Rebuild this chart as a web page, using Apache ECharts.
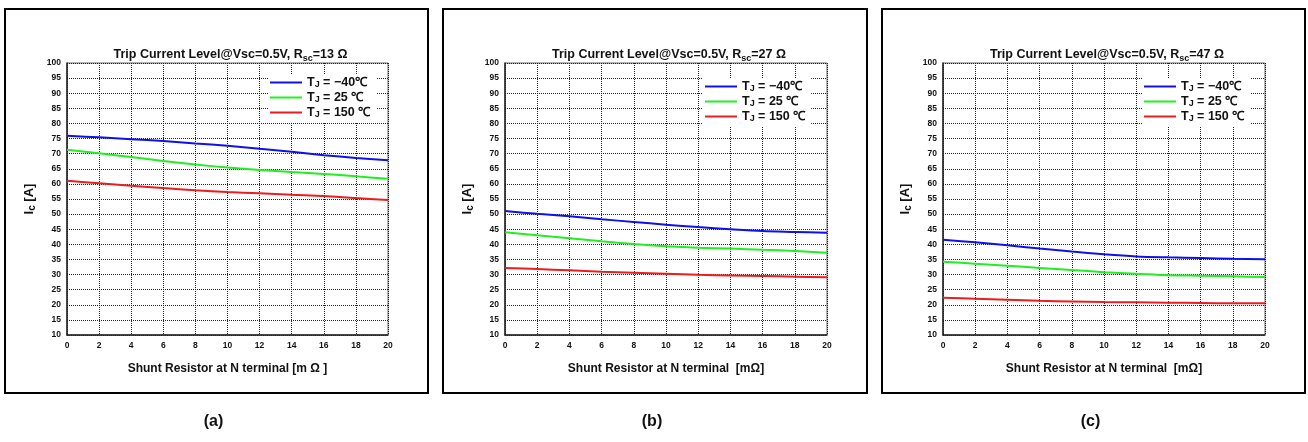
<!DOCTYPE html>
<html>
<head>
<meta charset="utf-8">
<script src="https://cdn.jsdelivr.net/npm/echarts@6/dist/echarts.min.js"></script>
<style>
html,body{margin:0;padding:0;background:#fff;}
#chart{width:1308px;height:442px;}
</style>
</head>
<body>
<div id="chart"></div>
<script>
// ---- data ----
const xValues = [0, 2, 4, 6, 8, 10, 12, 14, 16, 18, 20];
const yTicks = {min: 10, max: 100, interval: 5};
const xTicks = {min: 0, max: 20, interval: 2};

const panelRsc = ['13', '27', '47'];
const panelLabels = ['(a)', '(b)', '(c)'];
const xAxisNames = ['Shunt Resistor at N terminal [m Ω ]', 'Shunt Resistor at N terminal  [mΩ]', 'Shunt Resistor at N terminal  [mΩ]'];
const seriesNames = ['TJ = −40℃', 'TJ = 25 ℃', 'TJ = 150 ℃'];
const seriesColors = ['#1010ee', '#22ee22', '#ee1c1c'];

// (a) Rsc = 13 Ω
const a_m40 = [75.9, 75.4, 74.8, 74.2, 73.4, 72.6, 71.6, 70.6, 69.5, 68.6, 67.8];
const a_25  = [71.3, 70.1, 68.9, 67.6, 66.4, 65.4, 64.6, 63.9, 63.3, 62.5, 61.7];
const a_150 = [61.0, 60.2, 59.4, 58.6, 57.9, 57.3, 56.9, 56.4, 56.0, 55.3, 54.7];
// (b) Rsc = 27 Ω
const b_m40 = [51.0, 50.1, 49.3, 48.3, 47.4, 46.5, 45.7, 45.0, 44.4, 44.1, 43.8];
const b_25  = [44.0, 43.0, 42.0, 41.0, 40.1, 39.4, 38.9, 38.6, 38.2, 37.8, 37.2];
const b_150 = [32.2, 31.8, 31.4, 30.9, 30.6, 30.3, 29.9, 29.7, 29.5, 29.3, 29.1];
// (c) Rsc = 47 Ω
const c_m40 = [41.5, 40.7, 39.7, 38.6, 37.6, 36.7, 36.0, 35.7, 35.5, 35.2, 35.1];
const c_25  = [34.2, 33.6, 32.9, 32.2, 31.5, 30.8, 30.3, 29.8, 29.6, 29.4, 29.2];
const c_150 = [22.3, 22.0, 21.7, 21.3, 21.1, 20.9, 20.8, 20.7, 20.6, 20.5, 20.5];

const panelData = [[a_m40, a_25, a_150], [b_m40, b_25, b_150], [c_m40, c_25, c_150]];

// ---- layout ----
const FONT = 'Liberation Sans, Arial, sans-serif';
const grids = [
  {left: 67, right: 1308 - 388, top: 63, height: 272},
  {left: 505, right: 1308 - 827, top: 63, height: 272},
  {left: 943, right: 1308 - 1265, top: 63, height: 272}
];
const boxes = [[5, 428], [443, 867], [882, 1305]];
const legendPos = [{left: 268, top: 74}, {left: 703, top: 78}, {left: 1142, top: 78}];

const chart = echarts.init(document.getElementById('chart'), null, {renderer: 'canvas'});

const option = {
  backgroundColor: '#fff',
  animation: false,
  title: [],
  legend: [],
  grid: [],
  xAxis: [],
  yAxis: [],
  series: [],
  graphic: []
};

for (let p = 0; p < 3; p++) {
  const g = grids[p];
  option.grid.push({
    left: g.left, right: g.right, top: g.top, height: g.height,
    show: true, borderColor: '#666', borderWidth: 1, backgroundColor: 'transparent'
  });
  const cx = (g.left + (1308 - g.right)) / 2 - 2;
  option.title.push({
    text: 'Trip Current Level@Vsc=0.5V, R{sub|sc}=' + panelRsc[p] + ' Ω',
    left: cx, top: 42, textAlign: 'center',
    textStyle: {
      fontFamily: FONT, fontSize: 12.5, fontWeight: 'bold', color: '#111',
      rich: {sub: {fontFamily: FONT, fontSize: 9, fontWeight: 'bold', color: '#111', verticalAlign: 'bottom', padding: [7, 0, 0, 0]}}
    }
  });
  option.xAxis.push({
    type: 'value', gridIndex: p, min: xTicks.min, max: xTicks.max, interval: xTicks.interval,
    name: xAxisNames[p], nameLocation: 'middle', nameGap: 28,
    nameTextStyle: {fontFamily: FONT, fontSize: 12, fontWeight: 'bold', color: '#111'},
    axisLine: {show: true, onZero: false, lineStyle: {color: '#222', width: 1.5}},
    axisTick: {show: false},
    axisLabel: {fontFamily: FONT, fontSize: 8.5, fontWeight: 'bold', color: '#111', margin: 6},
    splitLine: {show: true, lineStyle: {color: '#222', type: [1, 1], width: 1}}
  });
  option.yAxis.push({
    type: 'value', gridIndex: p, min: yTicks.min, max: yTicks.max, interval: yTicks.interval,
    name: 'I{sub|c} [A]', nameLocation: 'middle', nameGap: 30, nameRotate: 90,
    nameTextStyle: {
      fontFamily: FONT, fontSize: 13, fontWeight: 'bold', color: '#111',
      rich: {sub: {fontFamily: FONT, fontSize: 10, fontWeight: 'bold', color: '#111', verticalAlign: 'bottom', padding: [6, 0, 0, 0]}}
    },
    axisLine: {show: true, onZero: false, lineStyle: {color: '#222', width: 1.5}},
    axisTick: {show: false},
    axisLabel: {fontFamily: FONT, fontSize: 8.5, fontWeight: 'bold', color: '#111', margin: 6},
    splitLine: {show: true, lineStyle: {color: '#222', type: [1, 1], width: 1}}
  });
  for (let s = 0; s < 3; s++) {
    option.series.push({
      type: 'line', name: seriesNames[s], xAxisIndex: p, yAxisIndex: p,
      data: xValues.map((x, i) => [x, panelData[p][s][i]]),
      smooth: 0.3, showSymbol: false, symbol: 'none',
      lineStyle: {color: seriesColors[s], width: 2},
      itemStyle: {color: seriesColors[s]},
      z: 5
    });
  }
  option.legend.push({
    data: seriesNames.map(n => ({name: n, icon: 'rect'})),
    orient: 'vertical', left: legendPos[p].left, top: legendPos[p].top,
    itemWidth: 32, itemHeight: 2, itemGap: 2,
    backgroundColor: '#fff', padding: [2, 6, 4, 2],
    selectedMode: false,
    formatter: function (name) {
      const parts = name.split('J');
      return parts[0] + '{j|J}' + parts[1];
    },
    textStyle: {
      fontFamily: FONT, fontSize: 12.5, fontWeight: 'bold', color: '#111', padding: [0, 0, 0, 0],
      rich: {j: {fontFamily: FONT, fontSize: 9, fontWeight: 'bold', color: '#111', verticalAlign: 'bottom'}}
    }
  });
  // panel border
  option.graphic.push({
    type: 'rect', shape: {x: boxes[p][0], y: 9, width: boxes[p][1] - boxes[p][0], height: 384},
    style: {fill: 'none', stroke: '#000', lineWidth: 2}, z: 0, silent: true
  });
  option.graphic.push({
    type: 'text', x: (boxes[p][0] + boxes[p][1]) / 2 - 3, y: 422,
    style: {text: panelLabels[p], fontFamily: FONT, fontSize: 16, fontWeight: 'bold', fill: '#111', textAlign: 'center', textVerticalAlign: 'middle'},
    silent: true
  });
}

chart.setOption(option);
</script>
</body>
</html>
